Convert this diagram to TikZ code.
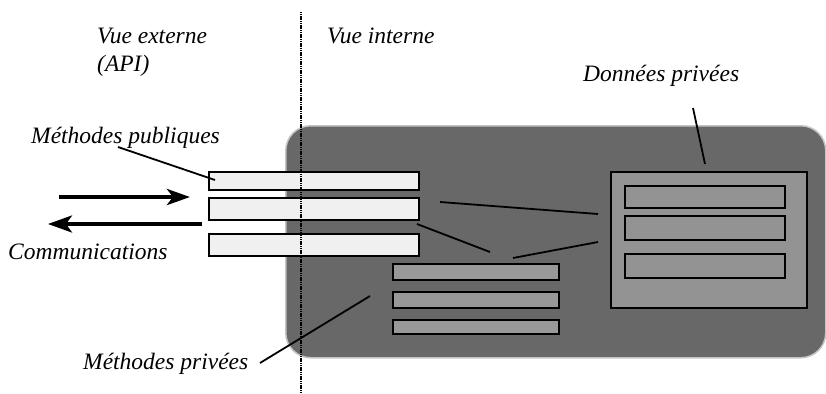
\documentclass[tikz,border=0pt]{standalone}
\usepackage{fontspec}
\setmainfont{Liberation Serif}
\usetikzlibrary{arrows.meta}
\definecolor{pubfill}{HTML}{F0F0F0}
\definecolor{privfill}{HTML}{999999}
\definecolor{datafill}{HTML}{939393}
\definecolor{objfill}{HTML}{686868}
\definecolor{objedge}{HTML}{C4C4C4}
\begin{document}
\begin{tikzpicture}[x=1pt,y=-1pt,
  lbl/.style={font=\fontsize{23.5}{28}\selectfont\itshape, inner sep=0pt, anchor=base west},
  boxbase/.style={draw=black, line width=2pt, inner sep=0pt, rectangle},
  pubbox/.style={boxbase, fill=pubfill, minimum width=210pt},
  privbox/.style={boxbase, fill=privfill, minimum width=166pt},
  databox/.style={boxbase, fill=datafill},
  conn/.style={draw=black, line width=1.8pt},
  sep/.style={draw=black, line width=1.3pt, dash pattern=on 1.2pt off 0.6pt}
]
\useasboundingbox (0,0) rectangle (826,393);
% object body
\node[draw=objedge, fill=objfill, line width=1.5pt, rounded corners=25pt, inner sep=0pt,
      minimum width=540pt, minimum height=232pt, anchor=north west] (obj) at (285,125) {};
% public methods
\node[pubbox, minimum height=18pt] (pub1) at (314,181) {};
\node[pubbox, minimum height=22pt] (pub2) at (314,209) {};
\node[pubbox, minimum height=22pt] (pub3) at (314,245) {};
% private methods
\node[privbox, minimum height=16pt] (priv1) at (476,272) {};
\node[privbox, minimum height=16pt] (priv2) at (476,300) {};
\node[privbox, minimum height=14pt] (priv3) at (476,327) {};
% private data
\node[databox, minimum width=196pt, minimum height=136pt] (data) at (709,240) {};
\node[databox, minimum width=160pt, minimum height=22pt] (d1) at (705,197) {};
\node[databox, minimum width=160pt, minimum height=24pt] (d2) at (705,228) {};
\node[databox, minimum width=160pt, minimum height=24pt] (d3) at (705,266) {};
% separator
\coordinate (septop) at (301,12);
\coordinate (sepbot) at (301,393);
\draw[sep] (septop) -- (sepbot);
% labels
\node[lbl] (ext) at (97,44) {Vue externe};
\node[lbl] (api) at (97,72) {(API)};
\node[lbl] (int) at (327,44) {Vue interne};
\node[lbl] (dpl) at (583,82) {Données privées};
\node[lbl] (mpub) at (31,143) {Méthodes publiques};
\node[lbl] (comm) at (8,259) {Communications};
\node[lbl] (mpriv) at (83,369) {Méthodes privées};
% communication arrows
\coordinate (inS) at (59,197);
\coordinate (inE) at (190,197);
\coordinate (outS) at (202,224);
\coordinate (outE) at (48,224);
\draw[line width=4.5pt, -{Stealth[length=23pt,width=16pt,inset=6pt]}] (inS) -- (inE);
\draw[line width=3.5pt, -{Stealth[length=24pt,width=17pt,inset=6pt]}] (outS) -- (outE);
% pointer lines
\coordinate (c1a) at (118,147); \coordinate (c1b) at (215,180);
\coordinate (c2a) at (693,108); \coordinate (c2b) at (705,164);
\coordinate (c3a) at (260,363); \coordinate (c3b) at (370,296);
\coordinate (c4a) at (440,202); \coordinate (c4b) at (598,214);
\coordinate (c5a) at (417,224); \coordinate (c5b) at (490,252);
\coordinate (c6a) at (513,258); \coordinate (c6b) at (598,242);
\draw[conn] (c1a) -- (c1b);
\draw[conn] (c2a) -- (c2b);
\draw[conn] (c3a) -- (c3b);
\draw[conn] (c4a) -- (c4b);
\draw[conn] (c5a) -- (c5b);
\draw[conn] (c6a) -- (c6b);
\end{tikzpicture}
\end{document}
